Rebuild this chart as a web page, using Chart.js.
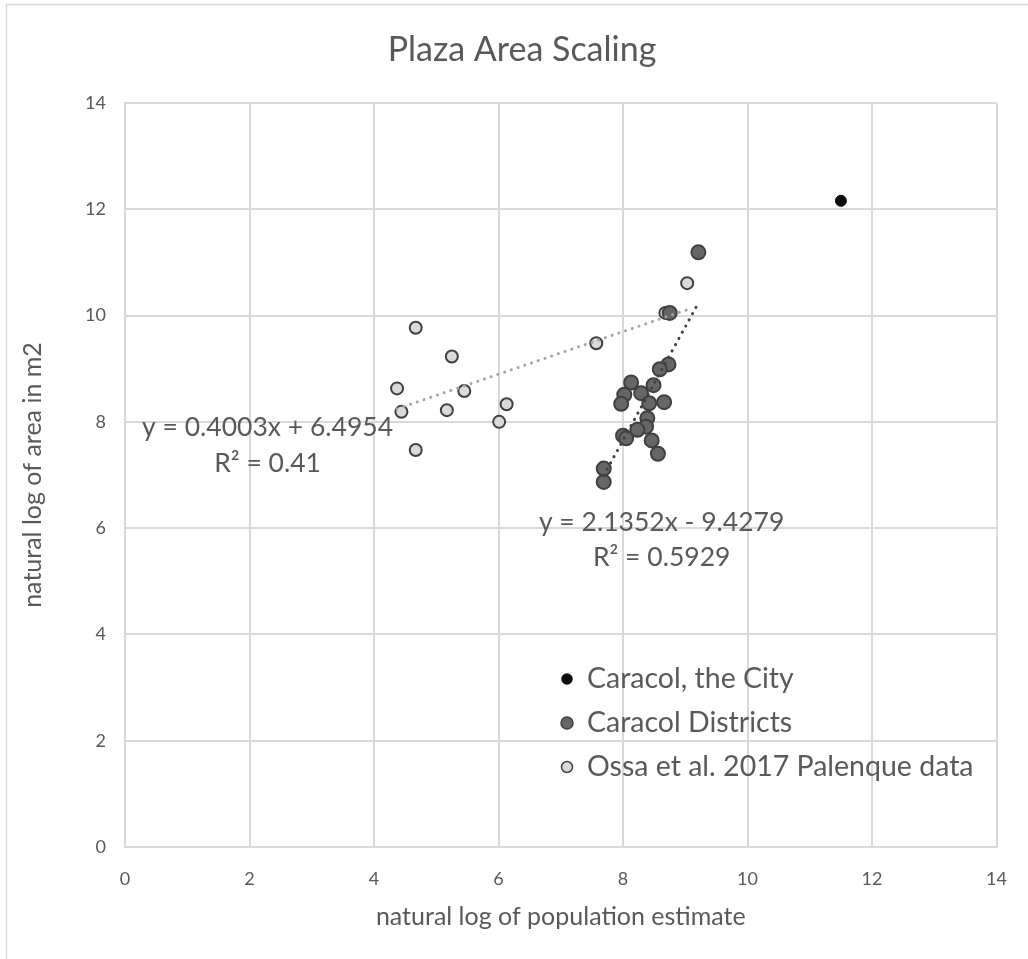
<!DOCTYPE html>
<html>
<head>
<meta charset="utf-8">
<script src="https://cdn.jsdelivr.net/npm/chart.js@4/dist/chart.umd.min.js"></script>
<style>
  html, body { margin: 0; padding: 0; background: #ffffff; }
  #wrap { width: 1028px; height: 959px; position: relative; }
</style>
</head>
<body>
<div id="wrap"><canvas id="chart" width="1028" height="959"></canvas></div>
<script>
// Caracol, the City
const cityX = [11.50];
const cityY = [12.16];

// Caracol districts
const districtX = [9.21, 8.75, 8.73, 8.59, 8.13, 8.49, 8.02, 8.29, 7.97, 8.42, 8.66, 8.39, 8.37, 8.23, 8.00, 8.05, 8.46, 8.56, 7.69, 7.69];
const districtY = [11.19, 10.05, 9.08, 8.99, 8.74, 8.69, 8.51, 8.54, 8.34, 8.35, 8.37, 8.07, 7.91, 7.85, 7.74, 7.69, 7.65, 7.40, 7.12, 6.87];

// Ossa et al. 2017 Palenque data
const palenqueX = [4.67, 5.25, 4.37, 5.45, 4.44, 5.17, 6.13, 6.01, 4.67, 7.57, 9.03, 8.68];
const palenqueY = [9.77, 9.23, 8.63, 8.58, 8.19, 8.22, 8.33, 8.00, 7.47, 9.48, 10.61, 10.05];

// Linear trend coefficients [slope, intercept] and their R² values
const palenqueFit = [0.4003, 6.4954];
const palenqueR2 = '0.41';
const districtFit = [2.1352, -9.4279];
const districtR2 = '0.5929';

// Axis ticks
const axisTicks = [0, 2, 4, 6, 8, 10, 12, 14];

const seriesNames = ['Caracol, the City', 'Caracol Districts', 'Ossa et al. 2017 Palenque data'];

const FONT = 'Lato, "Open Sans", sans-serif';
const TEXT = '#595959';

const toPoints = (xs, ys) => xs.map((x, i) => ({ x: x, y: ys[i] }));
const fitLine = (xs, fit) => {
  const lo = Math.min(...xs), hi = Math.max(...xs);
  return [{ x: lo, y: fit[0] * lo + fit[1] }, { x: hi, y: fit[0] * hi + fit[1] }];
};
const fmt = (v) => v.toFixed(4);
const eqText = (fit) => 'y = ' + fmt(fit[0]) + 'x ' + (fit[1] < 0 ? '- ' : '+ ') + fmt(Math.abs(fit[1]));

// Chart frame and title
const framePlugin = {
  id: 'frame',
  beforeDraw(chart) {
    const ctx = chart.ctx;
    ctx.save();
    ctx.fillStyle = '#ffffff';
    ctx.fillRect(0, 0, chart.width, chart.height);
    ctx.strokeStyle = '#d9d9d9';
    ctx.lineWidth = 1.5;
    ctx.strokeRect(6.5, 4.5, chart.width + 20, chart.height + 20);
    ctx.restore();
  },
  afterDraw(chart) {
    const ctx = chart.ctx;
    ctx.save();
    ctx.fillStyle = TEXT;
    ctx.textAlign = 'center';
    ctx.textBaseline = 'middle';
    ctx.font = '34px ' + FONT;
    ctx.fillText('Plaza Area Scaling', 522, 50);
    ctx.restore();
  }
};

// Trendline equation labels, anchored in data coordinates
const trendLabelPlugin = {
  id: 'trendLabels',
  afterDatasetsDraw(chart) {
    const { ctx, scales } = chart;
    const labels = [
      { x: 2.29, y: 7.89, text: eqText(palenqueFit) },
      { x: 2.29, y: 7.21, text: 'R² = ' + palenqueR2 },
      { x: 8.62, y: 6.10, text: eqText(districtFit) },
      { x: 8.62, y: 5.44, text: 'R² = ' + districtR2 }
    ];
    ctx.save();
    ctx.fillStyle = TEXT;
    ctx.font = '26.5px ' + FONT;
    ctx.textAlign = 'center';
    ctx.textBaseline = 'middle';
    labels.forEach(l => ctx.fillText(l.text, scales.x.getPixelForValue(l.x), scales.y.getPixelForValue(l.y)));
    ctx.restore();
  }
};

// Legend drawn inside the plot area
const legendPlugin = {
  id: 'innerLegend',
  afterDatasetsDraw(chart) {
    const { ctx, chartArea } = chart;
    const mx = chartArea.left + 442;
    const rows = [chartArea.top + 576, chartArea.top + 620, chartArea.top + 664];
    const styles = [
      { r: 5, fill: '#0d0d0d', stroke: '#0d0d0d' },
      { r: 6, fill: '#666666', stroke: '#404040' },
      { r: 5.5, fill: '#d9d9d9', stroke: '#404040' }
    ];
    ctx.save();
    ctx.font = '28.5px ' + FONT;
    ctx.textBaseline = 'middle';
    ctx.textAlign = 'left';
    seriesNames.forEach((name, i) => {
      const s = styles[i];
      ctx.beginPath();
      ctx.arc(mx, rows[i], s.r, 0, Math.PI * 2);
      ctx.fillStyle = s.fill;
      ctx.fill();
      ctx.lineWidth = 1.5;
      ctx.strokeStyle = s.stroke;
      ctx.stroke();
      ctx.fillStyle = TEXT;
      ctx.fillText(name, mx + 20, rows[i]);
    });
    ctx.restore();
  }
};

const ctx = document.getElementById('chart').getContext('2d');
new Chart(ctx, {
  type: 'scatter',
  data: {
    datasets: [
      {
        label: seriesNames[0],
        data: toPoints(cityX, cityY),
        backgroundColor: '#0d0d0d',
        borderColor: '#0d0d0d',
        borderWidth: 1,
        pointRadius: 5.5,
        order: 1
      },
      {
        label: 'districtTrend',
        type: 'line',
        data: fitLine(districtX, districtFit),
        borderColor: '#404040',
        borderWidth: 3,
        borderDash: [0.1, 7],
        borderCapStyle: 'round',
        pointRadius: 0,
        fill: false,
        order: 0
      },
      {
        label: 'palenqueTrend',
        type: 'line',
        data: fitLine(palenqueX, palenqueFit),
        borderColor: '#a6a6a6',
        borderWidth: 3,
        borderDash: [0.1, 7],
        borderCapStyle: 'round',
        pointRadius: 0,
        fill: false,
        order: 0
      },
      {
        label: seriesNames[1],
        data: toPoints(districtX, districtY),
        backgroundColor: '#666666',
        borderColor: '#404040',
        borderWidth: 2,
        pointRadius: 7,
        order: 2
      },
      {
        label: seriesNames[2],
        data: toPoints(palenqueX, palenqueY),
        backgroundColor: '#d9d9d9',
        borderColor: '#404040',
        borderWidth: 2,
        pointRadius: 6,
        order: 3
      }
    ]
  },
  options: {
    responsive: false,
    animation: false,
    events: [],
    layout: { padding: { left: 0, top: 103, right: 31, bottom: 0 } },
    plugins: {
      legend: { display: false },
      title: { display: false },
      tooltip: { enabled: false }
    },
    scales: {
      x: {
        type: 'linear',
        min: 0,
        max: 14,
        afterBuildTicks: (s) => { s.ticks = axisTicks.map(v => ({ value: v })); },
        afterFit: (s) => { s.height = 112; },
        grid: { color: '#d9d9d9', lineWidth: 2, drawTicks: false },
        border: { color: '#d9d9d9', width: 2 },
        ticks: { color: TEXT, font: { family: FONT, size: 18 }, padding: 21 },
        title: {
          display: true,
          text: 'natural log of population estimate',
          color: TEXT,
          font: { family: FONT, size: 25 },
          padding: { top: 0, bottom: 27 }
        }
      },
      y: {
        type: 'linear',
        min: 0,
        max: 14,
        afterBuildTicks: (s) => { s.ticks = axisTicks.map(v => ({ value: v })); },
        afterFit: (s) => { s.width = 125; },
        grid: { color: '#d9d9d9', lineWidth: 2, drawTicks: false },
        border: { color: '#d9d9d9', width: 2 },
        ticks: { color: TEXT, font: { family: FONT, size: 18 }, padding: 19 },
        title: {
          display: true,
          text: 'natural log of area in m2',
          color: TEXT,
          font: { family: FONT, size: 25 },
          padding: { top: 18, bottom: 0 }
        }
      }
    }
  },
  plugins: [framePlugin, trendLabelPlugin, legendPlugin]
});
</script>
</body>
</html>
